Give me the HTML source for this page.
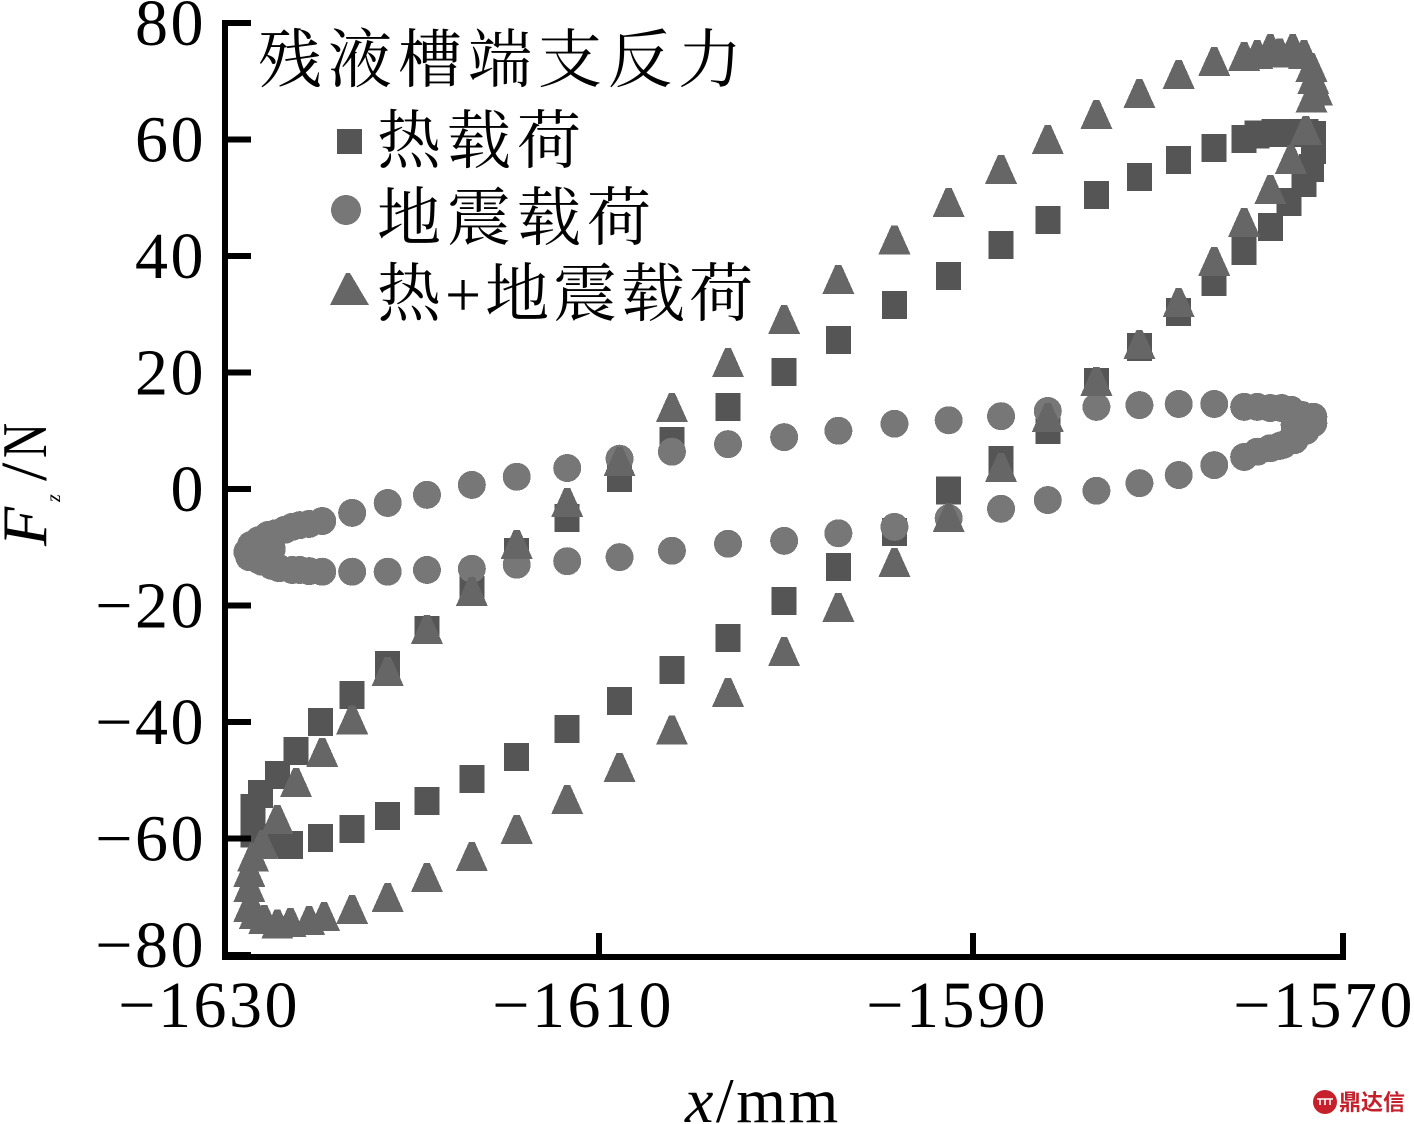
<!DOCTYPE html>
<html lang="zh">
<head>
<meta charset="utf-8">
<title>残液槽端支反力</title>
<style>
html,body{margin:0;padding:0;background:#fff;width:1414px;height:1124px;overflow:hidden}
svg{display:block}
.num{font-family:"Liberation Serif","Noto Serif CJK SC",serif;font-size:66px;fill:#000;letter-spacing:2.5px}
.cjk{font-family:"Liberation Serif","Noto Serif CJK SC",serif;font-size:64px;fill:#000;letter-spacing:6px}
</style>
</head>
<body>
<svg id="chart" xmlns="http://www.w3.org/2000/svg" width="1414" height="1124" viewBox="0 0 1414 1124">
  <rect x="0" y="0" width="1414" height="1124" fill="#fff"/>
  <g id="marks" shape-rendering="crispEdges"></g>
  <g id="axes" shape-rendering="crispEdges"></g>
  <g id="labels"></g>

  <g>
    <text class="cjk" x="258" y="82">残液槽端支反力</text>
    <rect x="337" y="129" width="25" height="25" fill="#555" shape-rendering="crispEdges"/>
    <text class="cjk" x="377" y="163">热载荷</text>
    <circle cx="346" cy="210" r="15" fill="#777" shape-rendering="crispEdges"/>
    <text class="cjk" x="377" y="240">地震载荷</text>
    <polygon points="346,273 350,273 369,305 330,305" fill="#666" shape-rendering="crispEdges"/>
    <text class="cjk" style="letter-spacing:4px" x="377" y="316">热+地震载荷</text>
  </g>

  <g>
    <text font-family="Liberation Serif, serif" font-size="64" font-style="italic" transform="translate(46,546) rotate(-90)">F</text>
    <text font-family="Liberation Serif, serif" font-size="20" font-style="italic" transform="translate(60,502) rotate(-90)">z</text>
    <text font-family="Liberation Serif, serif" font-size="66" transform="translate(46,481) rotate(-90)">/</text>
    <text font-family="Liberation Serif, serif" font-size="64" transform="translate(46,458) rotate(-90) scale(.76,1)">N</text>
  </g>
  <text font-family="Liberation Serif, serif" font-size="64" letter-spacing="2.5" x="685" y="1122"><tspan font-style="italic">x</tspan>/mm</text>

  <g>
    <circle cx="1325" cy="1102" r="12" fill="#c5202b"/>
    <path d="M1317 1099h16M1320 1099v6M1325 1099v6M1330 1099v6" stroke="#fff" stroke-width="1.6" fill="none"/>
    <text x="1339" y="1110" font-family="Noto Sans CJK SC, sans-serif" font-weight="700" font-size="22" fill="#c5202b">鼎达信</text>
  </g>
</svg>
<script>
const xTicks = [-1630, -1610, -1590, -1570];
const yTicks = [80, 60, 40, 20, 0, -20, -40, -60, -80];

const heatX = [-1628.5,-1628.5,-1627.6,-1626.5,-1624.9,-1623.2,-1621.3,-1619.2,-1616.8,-1614.4,-1611.7,-1608.9,-1606.1,-1603.1,-1600.1,-1597.2,-1594.2,-1591.3,-1588.5,-1586.0,-1583.4,-1581.1,-1579.0,-1577.1,-1575.5,-1574.1,-1573.1,-1572.3,-1571.9,-1571.8,-1571.8,-1572.2,-1573.1,-1573.9,-1574.8,-1575.5,-1577.1,-1579.0,-1581.1,-1583.4,-1586.0,-1588.5,-1591.3,-1594.2,-1597.2,-1600.1,-1603.1,-1606.1,-1608.9,-1611.7,-1614.4,-1616.8,-1619.2,-1621.3,-1623.2,-1624.9,-1626.2,-1627.2,-1628.1,-1628.5];
const heatY = [-56.8,-59.1,-60.8,-61.1,-59.9,-58.4,-56.1,-53.6,-49.8,-46.0,-41.2,-36.4,-31.1,-25.6,-19.2,-13.4,-7.4,-0.3,5.0,10.1,18.4,24.4,30.4,35.5,40.9,45.0,49.3,52.5,55.1,58.2,60.8,61.1,61.1,61.1,60.9,60.1,58.5,56.5,53.6,50.5,46.2,41.9,36.6,31.6,25.6,20.1,14.1,8.2,1.9,-5.0,-10.8,-17.3,-24.2,-30.2,-35.4,-40.0,-45.0,-49.1,-52.4,-54.8];

const seismicX = [-1628.8,-1628.6,-1628.2,-1627.7,-1626.8,-1626.0,-1624.8,-1623.2,-1621.3,-1619.2,-1616.8,-1614.4,-1611.7,-1608.9,-1606.1,-1603.1,-1600.1,-1597.2,-1594.2,-1591.3,-1588.5,-1586.0,-1583.4,-1581.1,-1579.0,-1577.1,-1575.5,-1574.1,-1573.0,-1572.4,-1571.8,-1572.2,-1572.8,-1573.4,-1574.1,-1575.5,-1577.1,-1579.0,-1581.1,-1583.4,-1586.0,-1588.5,-1591.3,-1594.2,-1597.2,-1600.1,-1603.1,-1606.1,-1608.9,-1611.7,-1614.4,-1616.8,-1619.2,-1621.3,-1623.2,-1624.8,-1626.0,-1627.1,-1628.0,-1628.7,-1628.0,-1627.5,-1572.8,-1572.2,-1625.5,-1626.4,-1627.3,-1625.5,-1626.4,-1627.5,-1628.2,-1627.6,-1628.2,-1574.8,-1573.5,-1574.8,-1572.8,-1572.2,-1573.6,-1571.8];
const seismicY = [-10.8,-9.6,-8.8,-7.9,-7.0,-6.2,-5.5,-4.1,-2.4,-1.0,0.7,2.1,3.6,5.2,6.4,7.7,8.9,10.0,11.2,11.8,12.5,13.4,14.1,14.4,14.6,14.6,14.1,13.9,13.6,12.7,11.3,10.0,8.4,7.6,7.0,5.5,4.1,2.4,1.0,-0.3,-1.9,-3.4,-5.0,-6.5,-7.6,-8.9,-9.4,-10.6,-11.7,-12.4,-13.0,-13.7,-13.9,-14.2,-14.2,-14.2,-13.9,-13.6,-12.5,-11.7,-10.5,-10.3,11.0,11.3,-6.0,-6.5,-7.6,-14.1,-13.9,-13.2,-12.2,-11.0,-10.5,14.1,13.9,6.4,9.8,10.5,7.4,12.4];

const combinedX = [-1628.7,-1628.7,-1628.5,-1628.0,-1627.2,-1626.2,-1624.8,-1623.2,-1621.3,-1619.2,-1616.8,-1614.4,-1611.7,-1608.9,-1606.1,-1603.1,-1600.1,-1597.2,-1594.2,-1591.3,-1588.5,-1586.0,-1583.4,-1581.1,-1579.0,-1577.1,-1575.5,-1574.8,-1574.1,-1573.6,-1572.9,-1572.3,-1571.9,-1571.8,-1571.6,-1571.9,-1572.2,-1573.0,-1574.1,-1575.5,-1577.1,-1579.0,-1581.1,-1583.4,-1586.0,-1588.5,-1591.3,-1594.2,-1597.2,-1600.1,-1603.1,-1606.1,-1608.9,-1611.7,-1614.4,-1616.8,-1619.2,-1621.3,-1623.2,-1624.7,-1625.5,-1626.5,-1627.2,-1627.9,-1628.4,-1628.7];
const combinedY = [-68.5,-65.9,-63.3,-61.1,-56.8,-50.5,-45.3,-39.7,-31.4,-24.2,-17.7,-9.6,-2.4,4.6,13.9,21.6,29.0,35.9,42.7,49.1,54.8,59.9,64.2,67.8,71.1,73.3,74.2,74.5,75.5,74.8,75.5,74.5,72.3,70.2,68.2,67.0,61.5,56.5,51.3,45.7,39.0,31.9,24.7,18.4,12.2,3.6,-5.0,-12.7,-20.4,-28.0,-35.0,-41.5,-47.9,-53.4,-58.5,-63.2,-66.8,-70.2,-72.3,-73.5,-74.2,-74.5,-74.8,-74.0,-73.1,-71.9];

const SVGNS = 'http://www.w3.org/2000/svg';
function sx(v) { return 225 + (v + 1630) * 18.7; }
function sy(v) { return 489 - v * 5.825; }
function mk(tag, parent) {
  const el = document.createElementNS(SVGNS, tag);
  parent.appendChild(el);
  return el;
}
const marks = document.getElementById('marks');
const axes = document.getElementById('axes');
const labels = document.getElementById('labels');

heatX.forEach(function (x, i) {
  const el = mk('rect', marks);
  
  
  el.setAttribute('x', sx(x) - 12.5);
  el.setAttribute('y', sy(heatY[i]) - 14);
  el.setAttribute('width', 25);
  el.setAttribute('height', 28);
  el.setAttribute('fill', '#555');
});
seismicX.forEach(function (x, i) {
  const el = mk('circle', marks);
  
  
  el.setAttribute('cx', sx(x));
  el.setAttribute('cy', sy(seismicY[i]));
  el.setAttribute('r', 14);
  el.setAttribute('fill', '#777');
});
combinedX.forEach(function (x, i) {
  const cx = sx(x), cy = sy(combinedY[i]);
  const el = mk('polygon', marks);
  
  
  el.setAttribute('points', [cx - 3, cy - 15, cx + 3, cy - 15, cx + 16, cy + 14, cx - 16, cy + 14].join(' '));
  el.setAttribute('fill', '#666');
});

const ySpine = mk('rect', axes);


ySpine.setAttribute('x', 222);
ySpine.setAttribute('y', 20);
ySpine.setAttribute('width', 6);
ySpine.setAttribute('height', 940);
const xSpine = mk('rect', axes);


xSpine.setAttribute('x', 222);
xSpine.setAttribute('y', 954);
xSpine.setAttribute('width', 1124);
xSpine.setAttribute('height', 6);

yTicks.forEach(function (v) {
  const t = mk('rect', axes);
  
  
  t.setAttribute('x', 226);
  t.setAttribute('y', sy(v) - 3);
  t.setAttribute('width', 25);
  t.setAttribute('height', 6);
  const l = mk('text', labels);
  
  
  l.setAttribute('class', 'num');
  l.setAttribute('text-anchor', 'end');
  l.setAttribute('x', 206);
  l.setAttribute('y', sy(v) + 22 - (v === yTicks[yTicks.length - 1] ? 10 : 0));
  l.textContent = String(v).replace('-', '\u2212');
});
xTicks.forEach(function (v, i) {
  const tx = Math.min(sx(v), 1343);
  if (i > 0) {
    const t = mk('rect', axes);
    
    
    t.setAttribute('x', tx - 3);
    t.setAttribute('y', 933);
    t.setAttribute('width', 6);
    t.setAttribute('height', 24);
  }
  const l = mk('text', labels);
  
  
  l.setAttribute('class', 'num');
  l.setAttribute('text-anchor', 'end');
  l.setAttribute('x', Math.min(sx(v) + 75, 1415));
  l.setAttribute('y', 1027);
  l.textContent = String(v).replace('-', '\u2212');
});
</script>
</body>
</html>
